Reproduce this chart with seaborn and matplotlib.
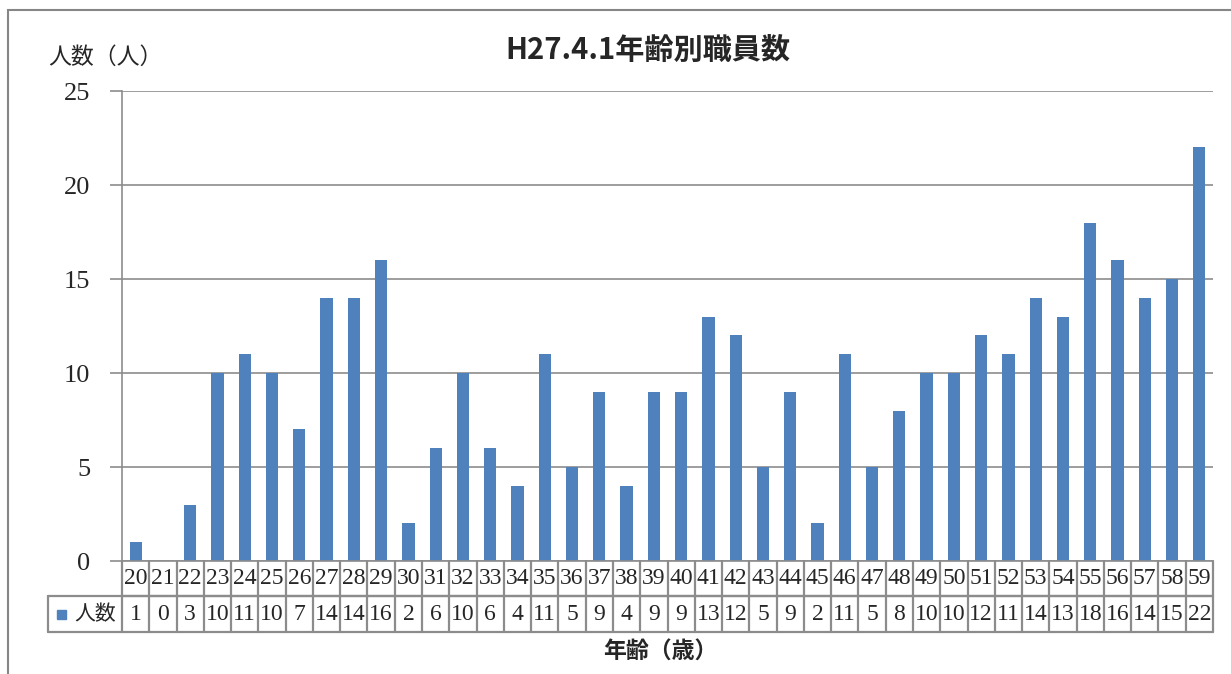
import numpy as np
import pandas as pd
import matplotlib.pyplot as plt
import seaborn as sns
from matplotlib.patches import Rectangle
from matplotlib.transforms import blended_transform_factory

# data
ages = [str(a) for a in range(20, 60)]
counts = [1, 0, 3, 10, 11, 10, 7, 14, 14, 16,
          2, 6, 10, 6, 4, 11, 5, 9, 4, 9,
          9, 13, 12, 5, 9, 2, 11, 5, 8, 10,
          10, 12, 11, 14, 13, 18, 16, 14, 15, 22]
yticks = [0, 5, 10, 15, 20, 25]

title = "H27.4.1年齢別職員数"
ylabel = "人数（人）"
xlabel = "年齢（歳）"
series_name = "人数"

BLUE = "#4F81BD"
GRAY = "#8C8C8C"
CJK = ["Noto Sans CJK JP", "DejaVu Sans"]
SERIF = ["Liberation Serif", "DejaVu Serif"]


def main():
    sns.set_style("white")
    plt.rcParams["font.family"] = CJK

    W, H = 1231, 674
    fig = plt.figure(figsize=(W / 100, H / 100), dpi=100)
    left, right, top, bottom = 122, 1213, 91, 561
    ax = fig.add_axes([left / W, 1 - bottom / H, (right - left) / W, (bottom - top) / H])

    df = pd.DataFrame({"age": ages, "count": counts})
    sns.barplot(data=df, x="age", y="count", order=ages, color=BLUE,
                saturation=1, width=0.45, linewidth=0, ax=ax)

    ax.set_xlim(-0.5, len(ages) - 0.5)
    ax.set_ylim(0, 25)
    ax.set_yticks(yticks)
    ax.set_yticklabels([str(v) for v in yticks], family=SERIF, fontsize=19)
    ax.yaxis.grid(True, color=GRAY, linewidth=1.2)
    ax.set_axisbelow(True)
    ax.tick_params(axis="y", left=True, length=9, width=1.2, color=GRAY, pad=14)
    ax.tick_params(axis="x", bottom=False, labelbottom=False)
    ax.set_xlabel("")
    ax.set_ylabel("")
    for s in ["top", "right"]:
        ax.spines[s].set_visible(False)
    for s in ["left", "bottom"]:
        ax.spines[s].set_color(GRAY)
        ax.spines[s].set_linewidth(1.2)

    # data table under the plot
    tr = blended_transform_factory(ax.transData, ax.transAxes)
    ah = bottom - top
    r1 = -35 / ah
    r2 = -71 / ah
    unit = (right - left) / len(ages)
    leg_left = -0.5 - (left - 48) / unit
    n = len(ages)
    kw = dict(color=GRAY, linewidth=1.6, transform=tr, clip_on=False)
    ax.plot([-0.5, n - 0.5], [r1, r1], **kw)
    ax.plot([leg_left, n - 0.5], [r1, r1], **kw)
    ax.plot([leg_left, n - 0.5], [r2, r2], **kw)
    ax.plot([leg_left, leg_left], [r1, r2], **kw)
    for i in range(n + 1):
        ax.plot([i - 0.5, i - 0.5], [0, r2], **kw)
    for i, (a, c) in enumerate(zip(ages, counts)):
        ax.text(i, r1 / 2, a, ha="center", va="center", fontsize=17,
                family=SERIF, transform=tr)
        ax.text(i, (r1 + r2) / 2, str(c), ha="center", va="center", fontsize=17,
                family=SERIF, transform=tr)
    ax.add_patch(Rectangle((leg_left + 9 / unit, (r1 + r2) / 2 - 4.5 / ah),
                           9 / unit, 9 / ah, color=BLUE, transform=tr, clip_on=False))
    ax.text(leg_left + 26 / unit, (r1 + r2) / 2, series_name, ha="left", va="center",
            fontsize=15, transform=tr)

    # texts
    fig.text(648 / W, 1 - 50 / H, title, ha="center", va="center",
             fontsize=21, fontweight="bold")
    fig.text(48 / W, 1 - 57 / H, ylabel, ha="left", va="center", fontsize=16.5)
    fig.text(660 / W, 1 - 652 / H, xlabel, ha="center", va="center",
             fontsize=16.5, fontweight="bold")

    # chart frame (cut off at the right and bottom)
    fig.patches.append(Rectangle((8 / W, -0.1), 1.1, 1.1 - 10 / H,
                                 transform=fig.transFigure, fill=False,
                                 edgecolor="#868686", linewidth=1.5))

    fig.savefig("out.png", dpi=100)


if __name__ == "__main__":
    main()
